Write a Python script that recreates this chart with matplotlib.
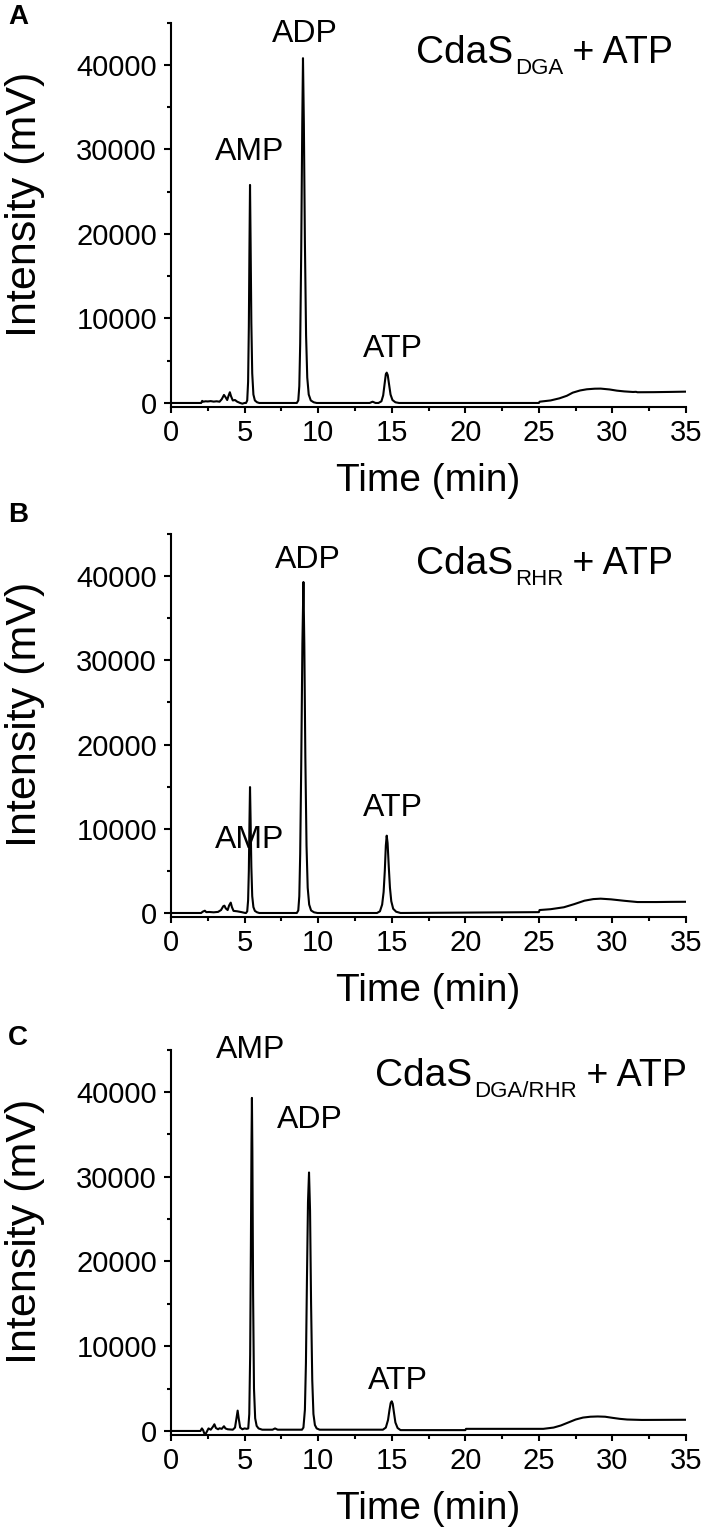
import matplotlib
matplotlib.use("Agg")
import matplotlib.pyplot as plt
from matplotlib.ticker import MultipleLocator

plt.rcParams['font.family'] = ['Liberation Sans', 'DejaVu Sans']

# ---------------- data (time in min, intensity in mV) -------------
time_a = [0, 2.05, 2.12, 2.2, 2.35, 2.5, 2.7, 2.9, 3.1, 3.3, 3.45, 3.6, 3.7, 3.82, 3.92, 4.0,
          4.08, 4.2, 4.35, 4.5, 4.7, 4.85, 5.0, 5.1,
          5.18, 5.24, 5.29, 5.33, 5.37, 5.41, 5.46, 5.52, 5.6, 5.7, 5.85, 6.0,
          8.55, 8.65, 8.72, 8.78, 8.85, 8.92, 8.97, 9.03, 9.1, 9.18, 9.26, 9.36, 9.5, 9.7, 9.9,
          13.5, 13.7, 13.9, 14.1, 14.3, 14.42, 14.52, 14.6, 14.66, 14.73, 14.82, 14.92, 15.05,
          15.25, 15.5, 25.0, 25.05, 25.8, 26.4, 26.9, 27.3, 27.8, 28.26, 28.8, 29.2, 29.8, 30.3,
          30.8, 31.4, 31.6, 31.7, 32.8, 34.0, 35.0]
intensity_a = [0, 0, 250, 150, 200, 180, 220, 160, 200, 150, 450, 950, 700, 350, 900, 1270,
               800, 300, 350, 150, 0, -80, 0, 0,
               300, 2500, 9000, 18000, 25800, 19000, 9500, 3500, 1000, 300, 80, 0,
               0, 300, 2000, 7000, 18000, 33000, 40800, 33000, 19000, 8000, 3000, 1000, 300, 80, 0,
               0, 150, 0, 0, 200, 900, 2300, 3400, 3590, 3300, 2200, 1000, 350,
               80, 0, 0, 150, 300, 550, 850, 1220, 1480, 1620, 1690, 1700, 1600, 1460,
               1370, 1300, 1320, 1270, 1280, 1310, 1340]

time_b = [0, 2.05, 2.15, 2.3, 2.4, 2.6, 2.9, 3.2, 3.4, 3.55, 3.63, 3.72, 3.85, 3.95, 4.06,
          4.14, 4.25, 4.5, 4.8, 5.05, 5.1,
          5.18, 5.24, 5.29, 5.33, 5.37, 5.41, 5.46, 5.52, 5.6, 5.7, 5.85, 6.0,
          8.55, 8.65, 8.72, 8.78, 8.85, 8.93, 9.0, 9.06, 9.13, 9.21, 9.29, 9.39, 9.52, 9.72, 9.95,
          14.0, 14.2, 14.35, 14.45, 14.53, 14.6, 14.66, 14.72, 14.8, 14.88, 14.97, 15.1, 15.3,
          15.6, 25.0, 25.05, 25.8, 26.7, 27.4, 28.1, 28.7, 29.2, 29.9, 30.8, 31.7, 33.0, 34.0, 35.0]
intensity_b = [0, 0, 150, 270, 100, 120, 80, 130, 350, 800, 870, 550, 350, 900, 1230,
               700, 250, 200, 100, 0, 0,
               200, 1500, 5000, 10500, 14950, 11000, 5500, 2000, 700, 250, 80, 0,
               0, 300, 2000, 7000, 17500, 32000, 39300, 32000, 18500, 8000, 3000, 1000, 300, 80, 0,
               0, 200, 1000, 2500, 5000, 8000, 9180, 8300, 5500, 3000, 1400, 500, 150,
               0, 100, 350, 450, 680, 1050, 1460, 1650, 1700, 1620, 1450, 1300, 1300, 1320, 1330]

time_c = [0, 2.0, 2.1, 2.18, 2.3, 2.4, 2.55, 2.7, 2.85, 2.95, 3.05, 3.2, 3.3, 3.45, 3.6, 3.7,
          3.85, 4.2, 4.35, 4.45, 4.53, 4.6, 4.7, 4.85, 5.0, 5.15, 5.25,
          5.32, 5.38, 5.43, 5.47, 5.5, 5.53, 5.58, 5.64, 5.72, 5.82, 5.95, 6.2,
          6.9, 7.07, 7.25, 8.9, 9.0, 9.1, 9.17, 9.24, 9.31, 9.38, 9.45, 9.52, 9.6, 9.68, 9.78,
          9.9, 10.1, 14.4, 14.6, 14.75, 14.85, 14.93, 15.0, 15.07, 15.15, 15.25, 15.4, 15.6,
          20.0, 20.05, 25.3, 26.0, 26.5, 27.0, 27.5, 28.0, 28.5, 29.0, 29.5, 30.0, 30.5, 31.0,
          32.0, 35.0]
intensity_c = [0, 0, 300, 100, -450, -200, 300, 150, 500, 790, 350, 200, 320, 250, 560, 300,
               200, 150, 400, 1500, 2400, 1500, 400, 200, 300, 250, 300,
               2000, 9000, 22000, 34000, 39300, 33000, 16000, 5000, 1500, 600, 300, 150,
               150, 300, 150, 150, 400, 2500, 8000, 18000, 27000, 30500, 26000, 15000, 6000,
               2000, 700, 300, 150, 150, 400, 1300, 2500, 3300, 3500, 3200, 2200, 1000, 350, 100,
               100, 250, 250, 400, 650, 1000, 1350, 1580, 1680, 1710, 1680, 1550, 1430, 1350,
               1300, 1320]

panel_letters = ["A", "B", "C"]
enzyme_subscripts = ["DGA", "RHR", "DGA/RHR"]
peak_names = ["AMP", "ADP", "ATP"]
# label anchor (time, intensity) per panel for AMP, ADP, ATP
label_time = [[5.37, 9.1, 15.05], [5.37, 9.3, 15.1], [5.4, 9.45, 15.4]]
label_value = [[28750, 42700, 5480], [7700, 41000, 11500], [44000, 35700, 4900]]

times = [time_a, time_b, time_c]
intensities = [intensity_a, intensity_b, intensity_c]

# ---------------- layout ----------------
W, H = 708, 1538
fig = plt.figure(figsize=(W / 100, H / 100), dpi=100)

ax_px = [(22.7, 407.2), (534.0, 917.2), (1049.6, 1435.2)]   # top, bottom in pixels
letter_top_px = [3.5, 502.5, 1025]
cond_pos = [(0.4757, 0.895), (0.4757, 0.895), (0.396, 0.905)]
left_px, right_px = 171, 686

LW = 1.5
for i in range(3):
    top, bot = ax_px[i]
    ax = fig.add_axes([left_px / W, 1 - bot / H, (right_px - left_px) / W, (bot - top) / H])
    ax.plot(times[i], intensities[i], color='black', lw=LW, solid_joinstyle='round')
    ax.set_xlim(0, 35)
    ax.set_ylim(-500, 45000)
    for s in ['top', 'right']:
        ax.spines[s].set_visible(False)
    for s in ['left', 'bottom']:
        ax.spines[s].set_linewidth(LW)
    ax.xaxis.set_major_locator(MultipleLocator(5))
    ax.xaxis.set_minor_locator(MultipleLocator(2.5))
    ax.yaxis.set_major_locator(MultipleLocator(10000))
    ax.yaxis.set_minor_locator(MultipleLocator(5000))
    ax.tick_params(axis='both', which='major', direction='out', width=LW, labelsize=21)
    ax.tick_params(axis='x', which='major', length=4.5, pad=4)
    ax.tick_params(axis='y', which='major', length=5, pad=5)
    ax.tick_params(axis='both', which='minor', direction='out', width=LW, length=3.2)

    ax.set_xlabel('Time (min)', fontsize=28)
    ax.xaxis.set_label_coords(0.5, -0.145)
    ax.set_ylabel('Intensity (mV)', fontsize=31, va='center')
    ax.yaxis.set_label_coords(-0.283, 0.528)

    for name, tx, vy in zip(peak_names, label_time[i], label_value[i]):
        ax.text(tx, vy, name, fontsize=23, ha='center', va='baseline')

    cx, cy = cond_pos[i]
    t1 = ax.text(cx, cy, 'CdaS', transform=ax.transAxes, fontsize=28,
                 ha='left', va='baseline')
    t2 = ax.annotate(enzyme_subscripts[i], xy=(1, 0), xycoords=t1, xytext=(1.5, 9.5),
                     textcoords='offset points', fontsize=16, ha='left', va='top')
    ax.annotate(' + ATP', xy=(1, 0), xycoords=(t2, t1), xytext=(-1, 0),
                textcoords='offset points', fontsize=27, ha='left', va='bottom')

    fig.text(8 / W, 1 - letter_top_px[i] / H, panel_letters[i], fontsize=20,
             fontweight='bold', ha='left', va='top')

fig.savefig('out.png', dpi=100)
